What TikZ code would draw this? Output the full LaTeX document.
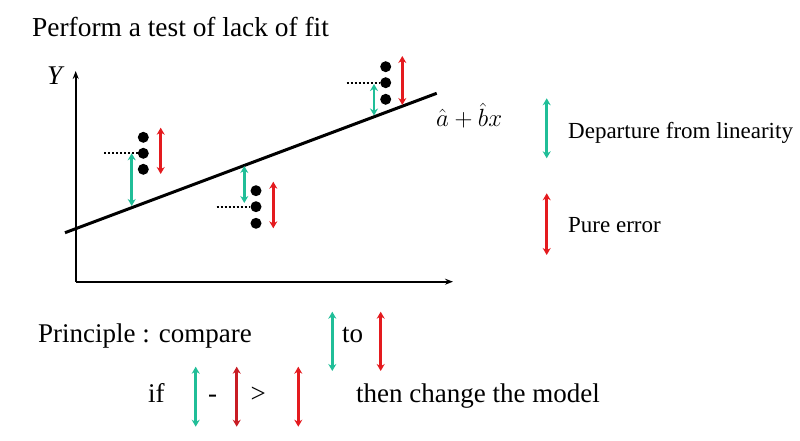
\documentclass[tikz,border=0pt]{standalone}
\usepackage{fontspec}
\setmainfont{Liberation Serif}
\usetikzlibrary{arrows.meta, positioning}

\definecolor{fitgreen}{RGB}{32,190,152}
\definecolor{errred}{RGB}{228,26,30}
\definecolor{darkred}{RGB}{200,28,36}

\begin{document}
\begin{tikzpicture}[x=1pt, y=-1pt,
  big/.style={font=\fontsize{27}{32}\selectfont, inner sep=0pt, anchor=base west},
  small/.style={font=\fontsize{23}{28}\selectfont, inner sep=0pt, anchor=base west},
  dot/.style={circle, fill=black, minimum size=11pt, inner sep=0pt},
  axis/.style={line width=2pt, -{Stealth[length=8pt, width=6pt]}},
  lof/.style={fitgreen, line width=2.6pt, {Stealth[length=7pt, width=8pt]}-{Stealth[length=7pt, width=8pt]}},
  pure/.style={errred, line width=2.6pt, {Stealth[length=7pt, width=8pt]}-{Stealth[length=7pt, width=8pt]}},
  guide/.style={dotted, line width=2pt}]

  \useasboundingbox (0,0) rectangle (800,441);

  \node[big, font=\fontsize{27.4}{32}\selectfont] (title) at (32,36.5) {Perform a test of lack of fit};

  % axes
  \coordinate (origin) at (75.7,281.7);
  \coordinate (ytop) at (75.7,71);
  \coordinate (xend) at (453,281.7);
  \draw[axis] (origin) -- (ytop);
  \draw[axis] (origin) -- (xend);
  \node[big] (ylab) at (47,85) {\itshape Y};

  % fitted line
  \coordinate (lstart) at (65,232.7);
  \coordinate (lend) at (436.7,93.3);
  \draw[line width=3pt] (lstart) -- (lend);
  \node[small] (fit) at (436,126.7) {$\hat{a}+\hat{b}x$};

  % group 1
  \node[dot] (d11) at (143.3,137.3) {};
  \node[dot] (d12) at (143.3,153.3) {};
  \node[dot] (d13) at (143.3,169.3) {};
  \coordinate (g1) at (104.3,153.3);
  \draw[guide] (g1) -- (d12.west);
  \draw[lof] (131.7,153.3) -- (131.7,206);
  \draw[pure] (160.7,127.7) -- (160.7,174);

  % group 2
  \node[dot] (d21) at (256,190.7) {};
  \node[dot] (d22) at (256,206.7) {};
  \node[dot] (d23) at (256,223.3) {};
  \coordinate (g2) at (216.7,206.7);
  \draw[guide] (g2) -- (d22.west);
  \draw[lof] (244.3,166) -- (244.3,203);
  \draw[pure] (273.3,181.7) -- (273.3,228.3);

  % group 3
  \node[dot] (d31) at (385.7,66.7) {};
  \node[dot] (d32) at (385.7,82.7) {};
  \node[dot] (d33) at (385.7,99.3) {};
  \coordinate (g3) at (346.7,82.7);
  \draw[guide] (g3) -- (d32.west);
  \draw[lof] (374,84) -- (374,115.5);
  \draw[pure] (402.3,56) -- (402.3,105);

  % legend
  \draw[lof] (546.7,98.3) -- (546.7,158.3);
  \node[small] (dep) at (568,138.3) {Departure from linearity};
  \draw[pure] (546.7,193.3) -- (546.7,255);
  \node[small] (err) at (568,232.7) {Pure error};

  % principle
  \node[big] (princ) at (38,342) {Principle : compare};
  \draw[lof] (332.3,311.7) -- (332.3,371);
  \node[big] (to) at (342,342) {to};
  \draw[pure] (380.7,311.7) -- (380.7,371);

  \node[big] (if) at (148,402.7) {if};
  \draw[lof] (195.7,366.7) -- (195.7,426.7);
  \node[big] (minus) at (208,402.7) {-};
  \draw[pure, darkred] (236.7,366.7) -- (236.7,426.7);
  \node[big] (gt) at (250.5,402.7) {>};
  \draw[pure] (298.3,366.7) -- (298.3,426.7);
  \node[big] (then) at (356,402.7) {then change the model};
\end{tikzpicture}
\end{document}
